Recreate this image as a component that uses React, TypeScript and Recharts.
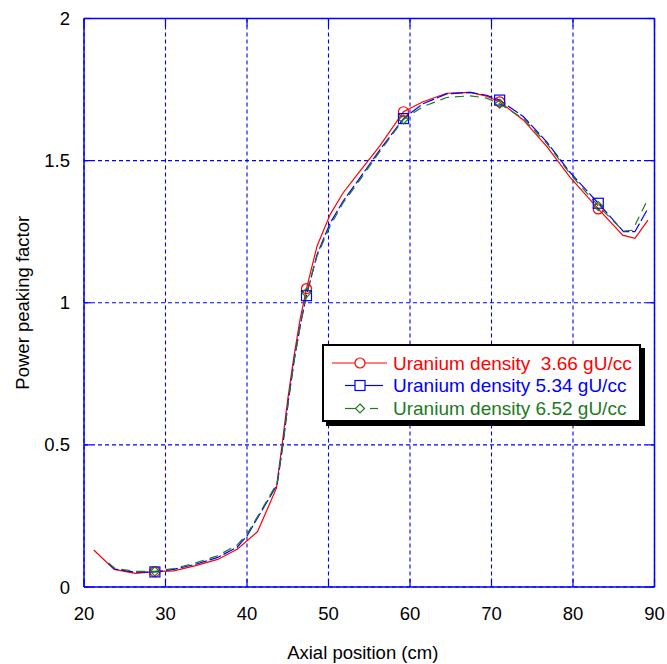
import React from 'react';
import { LineChart, Line, XAxis, YAxis, CartesianGrid } from 'recharts';

const xTicks = [20, 30, 40, 50, 60, 70, 80, 90];
const yTicks = [0, 0.5, 1, 1.5, 2];
const yTickLabels = ['0', '0.5', '1', '1.5', '2'];
const markerX = [28.7, 47.3, 59.2, 71.0, 83.1];

const seriesNames = [
  'Uranium density  3.66 gU/cc',
  'Uranium density 5.34 gU/cc',
  'Uranium density 6.52 gU/cc',
];

const redX = [21.2, 23.7, 26.3, 28.7, 31.0, 33.7, 36.4, 38.8, 41.3, 43.6, 44.3, 45.0, 45.7, 46.5, 47.3, 48.6, 50.2, 51.8, 53.5, 56.3, 59.2, 61.6, 64.5, 67.4, 69.4, 71.0, 73.9, 76.8, 79.6, 83.1, 86.1, 87.6, 89.2];
const redY = [0.130, 0.062, 0.048, 0.054, 0.057, 0.075, 0.097, 0.133, 0.195, 0.347, 0.50, 0.66, 0.80, 0.94, 1.05, 1.20, 1.31, 1.387, 1.450, 1.552, 1.672, 1.707, 1.737, 1.740, 1.727, 1.707, 1.643, 1.549, 1.443, 1.330, 1.238, 1.227, 1.291];

const blueX = [23.0, 23.8, 26.3, 28.7, 31.0, 33.7, 36.4, 38.8, 40.0, 43.7, 44.4, 45.1, 45.8, 46.6, 47.3, 48.6, 50.2, 51.8, 53.5, 56.3, 59.2, 61.6, 64.5, 67.4, 69.4, 71.0, 73.9, 76.8, 79.6, 83.1, 86.2, 87.6, 89.2];
const blueY = [0.083, 0.063, 0.052, 0.053, 0.062, 0.080, 0.104, 0.140, 0.180, 0.360, 0.50, 0.66, 0.80, 0.93, 1.025, 1.17, 1.28, 1.358, 1.425, 1.538, 1.648, 1.700, 1.735, 1.740, 1.730, 1.713, 1.655, 1.565, 1.460, 1.350, 1.250, 1.250, 1.332];

const greenX = [23.0, 23.8, 26.3, 28.7, 31.0, 33.7, 36.4, 38.8, 40.0, 43.7, 44.4, 45.1, 45.8, 46.6, 47.3, 48.6, 50.2, 51.8, 53.5, 56.3, 59.2, 61.6, 64.5, 67.4, 69.4, 71.0, 73.9, 76.8, 79.6, 83.1, 86.2, 87.3, 89.2];
const greenY = [0.085, 0.065, 0.055, 0.055, 0.065, 0.085, 0.110, 0.148, 0.185, 0.365, 0.50, 0.66, 0.80, 0.93, 1.035, 1.165, 1.27, 1.352, 1.418, 1.532, 1.645, 1.690, 1.722, 1.728, 1.720, 1.700, 1.648, 1.560, 1.455, 1.340, 1.252, 1.255, 1.365];

const RED = '#ff0000';
const BLUE = '#0000ff';
const GREEN = '#1d7a1d';
const AXIS = '#0000ff';
const FONT = '"Liberation Sans", Arial, sans-serif';

const toData = (xs: number[], ys: number[]) => xs.map((x, i) => ({ x, y: ys[i] }));
const redData = toData(redX, redY);
const blueData = toData(blueX, blueY);
const greenData = toData(greenX, greenY);

const isMarker = (x: number) => markerX.some((m) => Math.abs(m - x) < 0.01);

const makeDot = (kind: 'circle' | 'square' | 'diamond', color: string) => (props: any) => {
  const { cx, cy, payload, index } = props;
  if (!payload || !isMarker(payload.x) || cx == null || cy == null) return <g key={`d-${kind}-${index}`} />;
  if (kind === 'circle') return <circle key={`d-${kind}-${index}`} cx={cx} cy={cy} r={5} fill="none" stroke={color} strokeWidth={1.2} />;
  if (kind === 'square') return <rect key={`d-${kind}-${index}`} x={cx - 5} y={cy - 5} width={10} height={10} fill="none" stroke={color} strokeWidth={1.2} />;
  return <path key={`d-${kind}-${index}`} d={`M${cx},${cy - 4.5}L${cx + 4.5},${cy}L${cx},${cy + 4.5}L${cx - 4.5},${cy}Z`} fill="none" stroke={color} strokeWidth={1.2} />;
};

const BottomTick = (props: any) => {
  const { x, y, payload } = props;
  return (
    <g>
      <line x1={x} y1={y} x2={x} y2={y - 8} stroke={AXIS} strokeWidth={1.2} />
      <text x={x} y={y + 26} dy="0.355em" textAnchor="middle" fontSize={18.5} fontFamily={FONT} fill="#000">{payload.value}</text>
    </g>
  );
};

const LeftTick = (props: any) => {
  const { x, y, payload } = props;
  const label = yTickLabels[yTicks.indexOf(payload.value)] ?? String(payload.value);
  return (
    <g>
      <line x1={x} y1={y} x2={x + 7} y2={y} stroke={AXIS} strokeWidth={1.2} />
      <text x={x - 14} y={y} dy="0.355em" textAnchor="end" fontSize={18.5} fontFamily={FONT} fill="#000">{label}</text>
    </g>
  );
};

const TopTick = (props: any) => {
  const { x, y } = props;
  return <line x1={x} y1={y} x2={x} y2={y + 8} stroke={AXIS} strokeWidth={1.2} />;
};

const RightTick = (props: any) => {
  const { x, y } = props;
  return <line x1={x} y1={y} x2={x - 7} y2={y} stroke={AXIS} strokeWidth={1.2} />;
};

const LegendBox = () => {
  const rowY = [17, 39.5, 62.5];
  const colors = [RED, BLUE, GREEN];
  return (
    <div
      style={{
        position: 'absolute',
        left: 322,
        top: 344,
        width: 315,
        height: 74,
        border: '2px solid #000',
        boxShadow: '4px 4px 0 #000',
        background: '#fff',
        fontFamily: FONT,
      }}
    >
      <svg width={315} height={74} style={{ position: 'absolute', left: 0, top: 0, overflow: 'visible' }}>
        <line x1={8} y1={rowY[0]} x2={63} y2={rowY[0]} stroke={RED} strokeWidth={1.2} />
        <circle cx={36} cy={rowY[0]} r={5} fill="#fff" stroke={RED} strokeWidth={1.2} />
        <line x1={21} y1={rowY[1]} x2={26} y2={rowY[1]} stroke={BLUE} strokeWidth={1.2} />
        <line x1={41} y1={rowY[1]} x2={59} y2={rowY[1]} stroke={BLUE} strokeWidth={1.2} />
        <rect x={31} y={rowY[1] - 5} width={10} height={10} fill="none" stroke={BLUE} strokeWidth={1.2} />
        <line x1={26} y1={rowY[1]} x2={31} y2={rowY[1]} stroke={BLUE} strokeWidth={1.2} />
        <line x1={21} y1={rowY[2]} x2={31.5} y2={rowY[2]} stroke={GREEN} strokeWidth={1.2} />
        <path d={`M36,${rowY[2] - 4.5}L40.5,${rowY[2]}L36,${rowY[2] + 4.5}L31.5,${rowY[2]}Z`} fill="none" stroke={GREEN} strokeWidth={1.2} />
        <line x1={46} y1={rowY[2]} x2={54} y2={rowY[2]} stroke={GREEN} strokeWidth={1.2} />
        {seriesNames.map((name, i) => (
          <text key={name} x={69} y={rowY[i]} dy="0.355em" fontSize={19} fontFamily={FONT} fill={colors[i]} style={{ whiteSpace: 'pre' }} xmlSpace="preserve">
            {name}
          </text>
        ))}
      </svg>
    </div>
  );
};

export default function App() {
  return (
    <div style={{ position: 'absolute', left: 0, top: 0, width: 667, height: 664, background: '#fff' }}>
      <LineChart width={667} height={664} margin={{ top: 16.5, right: 10.5, bottom: 0, left: 24 }}>
        <CartesianGrid xAxisId="b" yAxisId="l" stroke={AXIS} strokeDasharray="4 3" strokeWidth={1.1} horizontal vertical />
        <XAxis
          xAxisId="b"
          dataKey="x"
          type="number"
          domain={[20, 90]}
          ticks={xTicks}
          interval={0}
          allowDataOverflow
          height={77}
          tickSize={0}
          tickMargin={0}
          tickLine={false}
          axisLine={{ stroke: AXIS, strokeWidth: 1.5 }}
          tick={<BottomTick />}
          label={{ value: 'Axial position (cm)', position: 'center', dx: -6.5, dy: 26.5, style: { fontSize: 18.5, fontFamily: FONT, fill: '#000' } }}
        />
        <XAxis
          xAxisId="t"
          orientation="top"
          dataKey="x"
          type="number"
          domain={[20, 90]}
          ticks={xTicks}
          interval={0}
          allowDataOverflow
          height={2}
          tickSize={0}
          tickMargin={0}
          tickLine={false}
          axisLine={{ stroke: AXIS, strokeWidth: 1.5 }}
          tick={<TopTick />}
        />
        <YAxis
          yAxisId="l"
          type="number"
          domain={[0, 2]}
          ticks={yTicks}
          interval={0}
          allowDataOverflow
          width={60}
          tickSize={0}
          tickMargin={0}
          tickLine={false}
          axisLine={{ stroke: AXIS, strokeWidth: 1.5 }}
          tick={<LeftTick />}
          label={{ value: 'Power peaking factor', position: 'center', angle: -90, dx: -32, style: { fontSize: 18.5, fontFamily: FONT, fill: '#000', textAnchor: 'middle' } }}
        />
        <YAxis
          yAxisId="r"
          orientation="right"
          type="number"
          domain={[0, 2]}
          ticks={yTicks}
          interval={0}
          allowDataOverflow
          width={2}
          tickSize={0}
          tickMargin={0}
          tickLine={false}
          axisLine={{ stroke: AXIS, strokeWidth: 1.5 }}
          tick={<RightTick />}
        />
        <Line xAxisId="b" yAxisId="l" data={redData} dataKey="y" type="linear" stroke={RED} strokeWidth={1.2} dot={makeDot('circle', RED)} activeDot={false} isAnimationActive={false} />
        <Line xAxisId="b" yAxisId="l" data={blueData} dataKey="y" type="linear" stroke={BLUE} strokeWidth={1.2} strokeDasharray="12 3" dot={makeDot('square', BLUE)} activeDot={false} isAnimationActive={false} />
        <Line xAxisId="b" yAxisId="l" data={greenData} dataKey="y" type="linear" stroke={GREEN} strokeWidth={1.2} strokeDasharray="9 6" dot={makeDot('diamond', GREEN)} activeDot={false} isAnimationActive={false} />
      </LineChart>
      <LegendBox />
    </div>
  );
}
